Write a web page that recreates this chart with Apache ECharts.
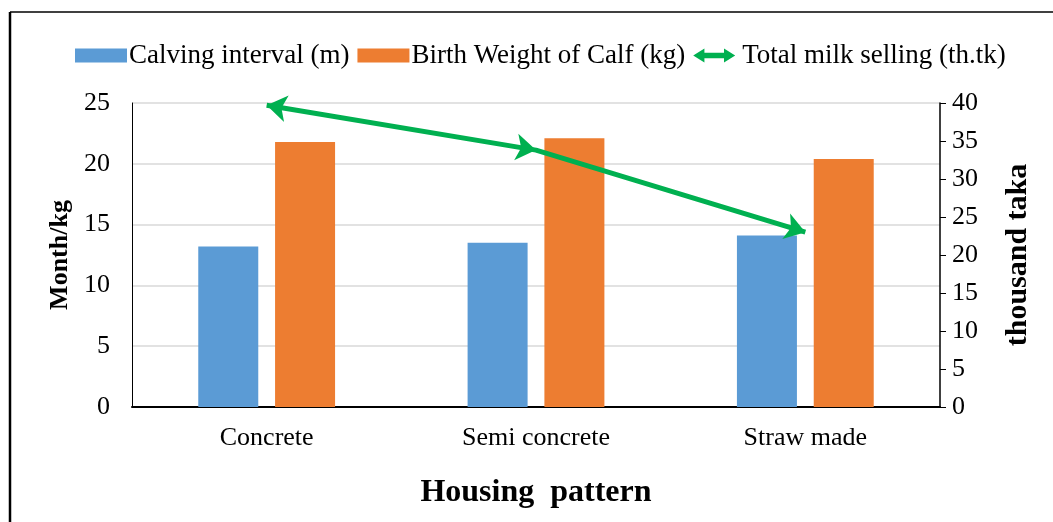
<!DOCTYPE html>
<html>
<head>
<meta charset="utf-8">
<script src="https://cdn.jsdelivr.net/npm/echarts@6/dist/echarts.min.js"></script>
<style>
  html, body { margin: 0; padding: 0; background: #fff; }
  #chart { width: 1053px; height: 522px; }
</style>
</head>
<body>
<div id="chart"></div>
<script>
// data
const categories = ['Concrete', 'Semi concrete', 'Straw made'];
const calvingInterval = [13.2, 13.5, 14.1];
const birthWeight = [21.8, 22.1, 20.4];
const milkSelling = [39.7, 33.8, 23.0];
const leftTicks = { min: 0, max: 25, interval: 5 };
const rightTicks = { min: 0, max: 40, interval: 5 };

// arrow heads along the line (degrees, like Excel's begin/end arrows)
const arrowAngles = [80, -99, -107];

const font = '"Liberation Serif", "Times New Roman", serif';
const chart = echarts.init(document.getElementById('chart'));

chart.setOption({
  backgroundColor: '#fff',
  textStyle: { fontFamily: font, color: '#000' },
  graphic: [
    { type: 'line', shape: { x1: 10, y1: 12, x2: 1053, y2: 12 }, style: { stroke: '#000', lineWidth: 1.5 } },
    { type: 'line', shape: { x1: 10, y1: 12, x2: 10, y2: 522 }, style: { stroke: '#000', lineWidth: 2.5 } }
  ],
  legend: {
    left: 70,
    top: 37,
    itemWidth: 52,
    itemHeight: 14,
    itemGap: 8,
    textStyle: { fontFamily: font, fontSize: 27, color: '#000', padding: [0, 0, 0, -3] },
    data: [
      { name: 'Calving interval (m)', icon: 'rect' },
      { name: 'Birth Weight of Calf (kg)', icon: 'rect' },
      { name: 'Total milk selling (th.tk)', icon: 'path://M0,5 L8,0 L8,3 L22,3 L22,0 L30,5 L22,10 L22,7 L8,7 L8,10 Z' }
    ]
  },
  grid: { left: 132, right: 113, top: 103, bottom: 115 },
  xAxis: {
    type: 'category',
    data: categories,
    name: 'Housing  pattern',
    nameLocation: 'middle',
    nameGap: 70,
    nameTextStyle: { fontFamily: font, fontSize: 32, fontWeight: 'bold', color: '#000' },
    axisLine: { lineStyle: { color: '#000', width: 2 } },
    axisTick: { show: false },
    axisLabel: { fontFamily: font, fontSize: 26, color: '#000', margin: 18 }
  },
  yAxis: [
    {
      type: 'value',
      min: leftTicks.min, max: leftTicks.max, interval: leftTicks.interval,
      name: 'Month/kg',
      nameLocation: 'middle',
      nameGap: 57,
      nameTextStyle: { fontFamily: font, fontSize: 26, fontWeight: 'bold', color: '#000' },
      axisLine: { show: true, lineStyle: { color: '#000', width: 1 } },
      axisTick: { show: false },
      axisLabel: { fontFamily: font, fontSize: 26, color: '#000', margin: 22 },
      splitLine: { lineStyle: { color: '#d9d9d9', width: 1.5 } }
    },
    {
      type: 'value',
      min: rightTicks.min, max: rightTicks.max, interval: rightTicks.interval,
      name: 'thousand taka',
      nameLocation: 'middle',
      nameGap: 63,
      nameRotate: 90,
      nameTextStyle: { fontFamily: font, fontSize: 30, fontWeight: 'bold', color: '#000' },
      axisLine: { show: true, lineStyle: { color: '#000', width: 1.5 } },
      axisTick: { show: true, length: 6, lineStyle: { color: '#000' } },
      axisLabel: { fontFamily: font, fontSize: 26, color: '#000', margin: 12 },
      splitLine: { show: false }
    }
  ],
  series: [
    {
      name: 'Calving interval (m)',
      type: 'bar',
      data: calvingInterval,
      barWidth: 60,
      barGap: '28%',
      itemStyle: { color: '#5b9bd5' }
    },
    {
      name: 'Birth Weight of Calf (kg)',
      type: 'bar',
      data: birthWeight,
      barWidth: 60,
      barGap: '28%',
      itemStyle: { color: '#ed7d31' }
    },
    {
      name: 'Total milk selling (th.tk)',
      type: 'line',
      yAxisIndex: 1,
      data: milkSelling.map((v, i) => ({ value: v, symbolRotate: arrowAngles[i] })),
      symbol: 'arrow',
      symbolSize: [20, 20],
      lineStyle: { color: '#00b050', width: 5 },
      itemStyle: { color: '#00b050' },
      z: 5
    }
  ]
});
</script>
</body>
</html>
